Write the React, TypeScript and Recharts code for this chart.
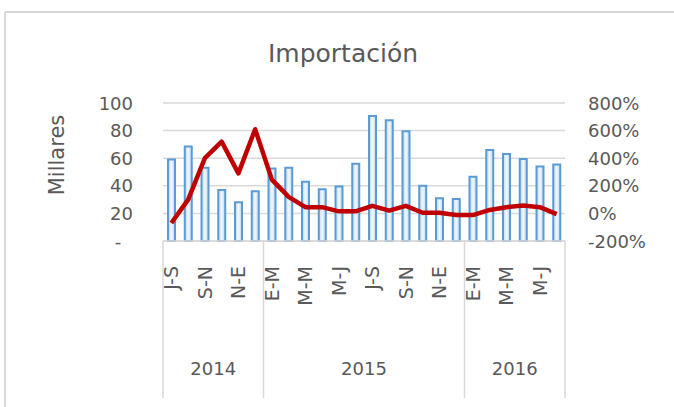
import { ComposedChart, Bar, Line, XAxis, YAxis, CartesianGrid } from 'recharts'

const categories = [
    'J-S', 'A-O', 'S-N', 'O-D', 'N-E', 'D-F',
    'E-M', 'F-A', 'M-M', 'A-J', 'M-J', 'J-A', 'J-S', 'A-O', 'S-N', 'O-D', 'N-E', 'D-F',
    'E-M', 'F-A', 'M-M', 'A-J', 'M-J', 'J-A',
]
const importacion = [
    59, 68.5, 53, 37, 28, 36,
    52.5, 53, 43, 37.5, 39.5, 56, 90.5, 87.5, 79.5, 40, 31, 30.5,
    46.5, 66, 63, 59.5, 54, 55.5,
]
const variacion = [
    -70, 100, 400, 520, 290, 610,
    245, 120, 45, 45, 15, 15, 55, 20, 55, 5, 5, -12,
    -12, 25, 45, 57, 45, -5,
]
const years = ['2014', '2015', '2016']
const yearCounts = [6, 12, 6]
const leftTicks = [0, 20, 40, 60, 80, 100]
const rightTicks = [-200, 0, 200, 400, 600, 800]

const data = categories.map((cat, i) => ({ cat, imp: importacion[i], pct: variacion[i] }))

const W = 674
const H = 407
const LEFT = 163
const RIGHT = 565
const TOP = 103
const BOTTOM = 241
const FONT = '"DejaVu Sans", sans-serif'
const TEXT = '#595959'
const GRID = '#D9D9D9'
const HALF = (RIGHT - LEFT) / categories.length / 2

const groupStarts = yearCounts.map((_, g) => yearCounts.slice(0, g).reduce((a, b) => a + b, 0))

function LeftTick(props: any) {
    const { x, y, payload } = props
    if (payload.value === 0) {
        return <text x={x - 15} y={y} textAnchor="middle" dominantBaseline="central" fontSize={18} fill={TEXT} fontFamily={FONT}>-</text>
    }
    return <text x={x} y={y} textAnchor="end" dominantBaseline="central" fontSize={18} fill={TEXT} fontFamily={FONT}>{payload.value}</text>
}

function RightTick(props: any) {
    const { x, y, payload } = props
    return <text x={x} y={y} textAnchor="start" dominantBaseline="central" fontSize={18} fill={TEXT} fontFamily={FONT}>{payload.value}%</text>
}

function CatTick(props: any) {
    const { x, y, payload, index } = props
    const parts: any[] = []
    if (index % 2 === 0) {
        parts.push(
            <text key="t" x={x} y={y + 25} transform={`rotate(-90 ${x} ${y + 25})`} textAnchor="end" dominantBaseline="central" fontSize={19} fill={TEXT} fontFamily={FONT}>
                {payload.value}
            </text>
        )
    }
    const g = groupStarts.indexOf(index)
    if (g >= 0) {
        parts.push(<line key="s" x1={x - HALF} x2={x - HALF} y1={y} y2={398} stroke={GRID} strokeWidth={1.5} />)
    }
    if (index === categories.length - 1) {
        parts.push(<line key="e" x1={x + HALF} x2={x + HALF} y1={y} y2={398} stroke={GRID} strokeWidth={1.5} />)
    }
    groupStarts.forEach((start, gi) => {
        const mid = start + yearCounts[gi] / 2 - 1
        if (index === mid) {
            parts.push(
                <text key={'y' + gi} x={x + HALF} y={368} textAnchor="middle" dominantBaseline="central" fontSize={18} fill={TEXT} fontFamily={FONT}>
                    {years[gi]}
                </text>
            )
        }
    })
    return <g>{parts}</g>
}

export default function App() {
    return (
        <div style={{ width: W, height: H, position: 'relative', background: '#fff' }}>
            <style>{'body{margin:0}'}</style>
            <ComposedChart width={W} height={H} data={data} margin={{ top: TOP, right: 0, bottom: 0, left: 0 }}>
                <defs>
                    <linearGradient id="barFill" x1="0" y1="0" x2="1" y2="0">
                        <stop offset="0%" stopColor="#BDD7EE" />
                        <stop offset="50%" stopColor="#F2F7FC" />
                        <stop offset="100%" stopColor="#BDD7EE" />
                    </linearGradient>
                </defs>
                <line x1={5} x2={W} y1={12} y2={12} stroke={GRID} strokeWidth={2} />
                <line x1={5} x2={5} y1={12} y2={H} stroke={GRID} strokeWidth={2} />
                <text x={343} y={53} textAnchor="middle" dominantBaseline="central" fontSize={25} fill={TEXT} fontFamily={FONT}>Importación</text>
                <text x={57} y={155} transform="rotate(-90 57 155)" textAnchor="middle" dominantBaseline="central" fontSize={21} fill={TEXT} fontFamily={FONT}>Millares</text>
                <CartesianGrid yAxisId="left" vertical={false} stroke={GRID} strokeWidth={1.5} />
                <XAxis dataKey="cat" interval={0} height={H - BOTTOM} tickLine={false} tickSize={0} tickMargin={0} axisLine={{ stroke: GRID, strokeWidth: 1.5 }} tick={<CatTick />} />
                <YAxis yAxisId="left" domain={[0, 100]} ticks={leftTicks} width={LEFT} axisLine={false} tickLine={false} tickSize={0} tickMargin={30} tick={<LeftTick />} />
                <YAxis yAxisId="right" orientation="right" domain={[-200, 800]} ticks={rightTicks} width={W - RIGHT} axisLine={false} tickLine={false} tickSize={0} tickMargin={23} tick={<RightTick />} />
                <Bar yAxisId="left" dataKey="imp" barSize={7} fill="url(#barFill)" stroke="#5B9BD5" strokeWidth={2} isAnimationActive={false} />
                <Line yAxisId="right" dataKey="pct" type="linear" stroke="#C00000" strokeWidth={4.5} strokeLinejoin="round" dot={false} isAnimationActive={false} />
            </ComposedChart>
        </div>
    )
}
